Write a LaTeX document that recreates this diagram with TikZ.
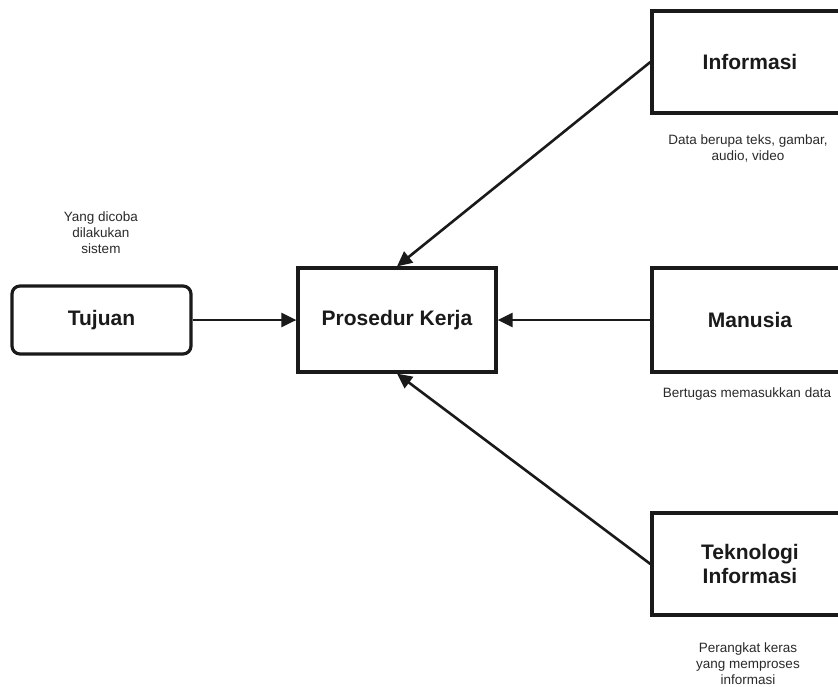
\documentclass[tikz,border=0pt]{standalone}
\usepackage{fontspec}
\setmainfont{Liberation Sans}
\usetikzlibrary{arrows.meta}
\definecolor{ink}{HTML}{1A1A1A}
\definecolor{note}{HTML}{2A2A2A}
\tikzset{
  box/.style={draw=ink, line width=3.2pt, minimum width=196pt, minimum height=102pt, inner sep=0pt,
    font=\fontsize{21}{24}\selectfont\bfseries, text=ink, align=center},
  goalbox/.style={box, rounded corners=8pt, minimum width=179pt, minimum height=68pt},
  notetext/.style={font=\fontsize{13.5}{16}\selectfont, text=note, align=center, inner sep=0pt},
  conn/.style={draw=ink, line width=2.6pt, -{Triangle[length=15pt,width=14pt]}},
}
\begin{document}
\begin{tikzpicture}[x=1pt,y=-1pt]
\clip (0,0) rectangle (838,686);
\fill[white] (0,0) rectangle (838,686);
\node[goalbox] (tujuan) at (101.5,320) {Tujuan};
\node[box, minimum width=198pt, minimum height=104pt] (pk) at (397,320) {Prosedur Kerja};
\node[box] (info) at (750,62) {Informasi};
\node[box, minimum height=104pt] (manusia) at (750,320) {Manusia};
\node[box] (tek) at (750,564) {Teknologi\\Informasi};

\node[notetext] (n1) at (101,233) {Yang dicoba\\dilakukan\\sistem};
\node[notetext] (n2) at (748,148) {Data berupa teks, gambar,\\audio, video};
\node[notetext] (n3) at (747,394) {Bertugas memasukkan data};
\node[notetext] (n4) at (748,664) {Perangkat keras\\yang memproses\\informasi};

\draw[conn] (tujuan.east) -- (pk.west);
\draw[conn] (manusia.west) -- (pk.east);
\draw[conn] (info.west) -- (pk.north);
\draw[conn] (tek.west) -- (pk.south);
\end{tikzpicture}
\end{document}
